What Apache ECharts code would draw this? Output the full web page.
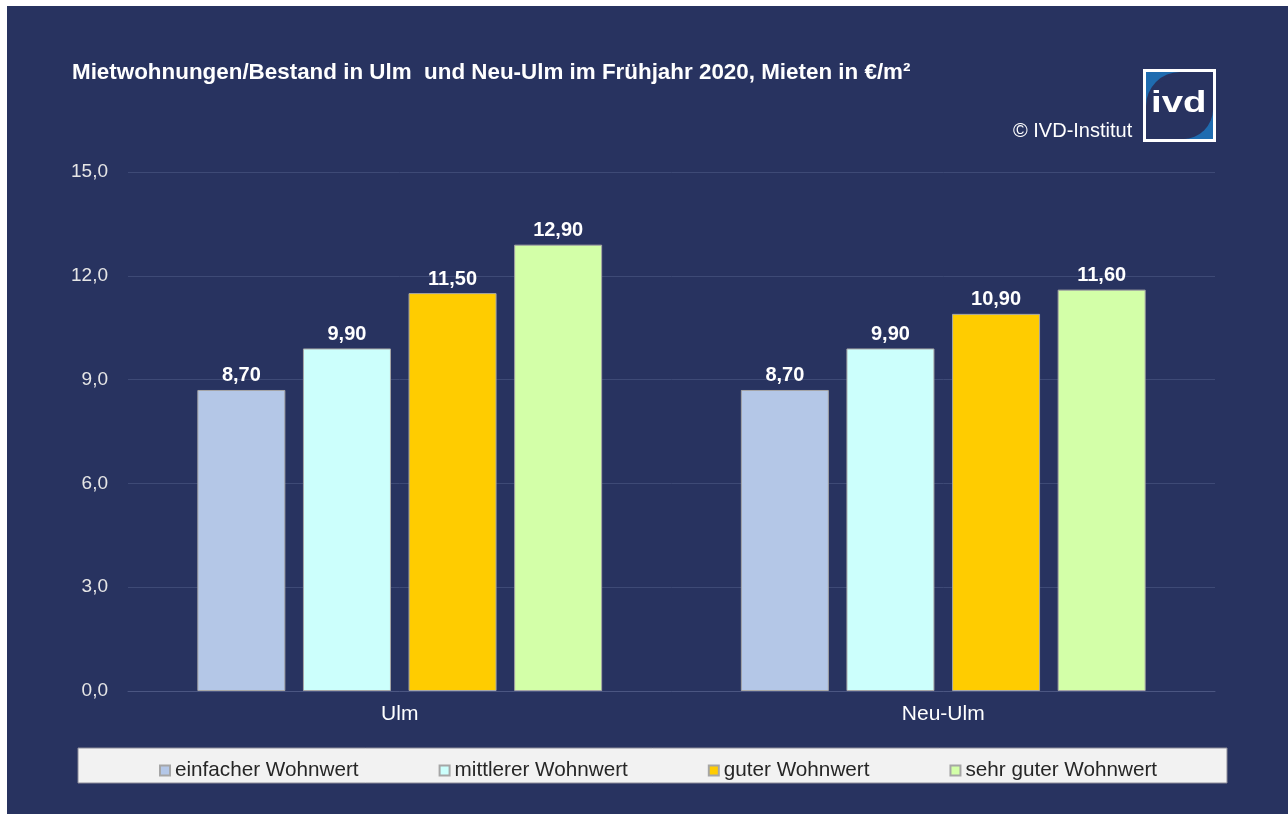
<!DOCTYPE html>
<html>
<head>
<meta charset="utf-8">
<script src="https://cdn.jsdelivr.net/npm/echarts@6/dist/echarts.min.js"></script>
<style>
    html, body { margin: 0; padding: 0; background: #ffffff; }
    #main { width: 1288px; height: 814px; }
</style>
</head>
<body>
<div id="main"></div>
<script>
var cities = ['Ulm', 'Neu-Ulm'];
var seriesNames = ['einfacher Wohnwert', 'mittlerer Wohnwert', 'guter Wohnwert', 'sehr guter Wohnwert'];
var einfach = [8.70, 8.70];
var mittel = [9.90, 9.90];
var gut = [11.50, 10.90];
var sehrGut = [12.90, 11.60];
var barColors = ['#b4c7e7', '#ccfffc', '#ffcc00', '#d3ffa8'];

var navy = '#283360';
var font = '"Liberation Sans", Arial, sans-serif';

var makeSeries = function (name, data, color) {
    return {
        name: name,
        type: 'bar',
        data: data,
        barWidth: 88,
        barGap: '20%',
        itemStyle: {
            color: color,
            borderColor: '#a6a6a6',
            borderWidth: 1
        },
        label: {
            show: true,
            position: 'top',
            distance: 4,
            color: '#ffffff',
            fontFamily: font,
            fontWeight: 'bold',
            fontSize: 20,
            formatter: function (p) {
                return p.value.toFixed(2).replace('.', ',');
            }
        }
    };
};

var option = {
    backgroundColor: '#ffffff',
    animation: false,
    textStyle: { fontFamily: font },
    title: {
        text: 'Mietwohnungen/Bestand in Ulm  und Neu-Ulm im Frühjahr 2020, Mieten in €/m²',
        left: 67,
        top: 57,
        textStyle: {
            color: '#ffffff',
            fontFamily: font,
            fontWeight: 'bold',
            fontSize: 22.4
        }
    },
    graphic: [
        // dark background
        { type: 'rect', z: -10, shape: { x: 7, y: 6, width: 1281, height: 808 }, style: { fill: navy } },
        // legend box
        { type: 'rect', z: -5, shape: { x: 78, y: 748, width: 1149, height: 35 },
          style: { fill: '#f2f2f2', stroke: '#8c8c99', lineWidth: 1 } },
        // copyright
        { type: 'text', left: 1013, top: 121,
          style: { text: '© IVD-Institut', fill: '#ffffff', font: '20px ' + font } },
        // logo
        { type: 'rect', shape: { x: 1143, y: 69, width: 73, height: 73 }, style: { fill: '#ffffff' } },
        { type: 'rect', shape: { x: 1146, y: 72, width: 67, height: 67 }, style: { fill: '#1f6cb0' } },
        { type: 'rect', shape: { x: 1146, y: 72, width: 67, height: 67, r: [34, 0, 34, 0] }, style: { fill: navy } },
        { type: 'rect', shape: { x: 1149, y: 75, width: 64, height: 64, r: [30, 0, 30, 0] }, style: { fill: navy } },
        { type: 'text', left: 1151, top: 89, scaleX: 1.28,
          style: { text: 'ivd', fill: '#ffffff', font: 'bold 30px ' + font } }
    ],
    legend: {
        data: seriesNames,
        left: 154,
        top: 755,
        itemWidth: 10,
        itemHeight: 10,
        itemGap: 80,
        icon: 'rect',
        textStyle: {
            color: '#262626',
            fontFamily: font,
            fontSize: 20.7
        }
    },
    grid: {
        left: 128,
        right: 73,
        top: 172,
        bottom: 123
    },
    xAxis: {
        type: 'category',
        data: cities,
        axisTick: { show: false },
        axisLine: { lineStyle: { color: '#4b5682', width: 1 } },
        axisLabel: {
            color: '#ffffff',
            fontFamily: font,
            fontSize: 21,
            margin: 13
        }
    },
    yAxis: {
        type: 'value',
        min: 0,
        max: 15,
        interval: 3,
        axisLine: { show: false },
        axisTick: { show: false },
        splitLine: { lineStyle: { color: '#3e4a76', width: 1 } },
        axisLabel: {
            color: '#e6e6e6',
            fontFamily: font,
            fontSize: 19,
            margin: 20,
            formatter: function (v) {
                return v.toFixed(1).replace('.', ',');
            }
        }
    },
    series: [
        makeSeries(seriesNames[0], einfach, barColors[0]),
        makeSeries(seriesNames[1], mittel, barColors[1]),
        makeSeries(seriesNames[2], gut, barColors[2]),
        makeSeries(seriesNames[3], sehrGut, barColors[3])
    ]
};

var myChart = echarts.init(document.getElementById('main'));
myChart.setOption(option);
</script>
</body>
</html>
